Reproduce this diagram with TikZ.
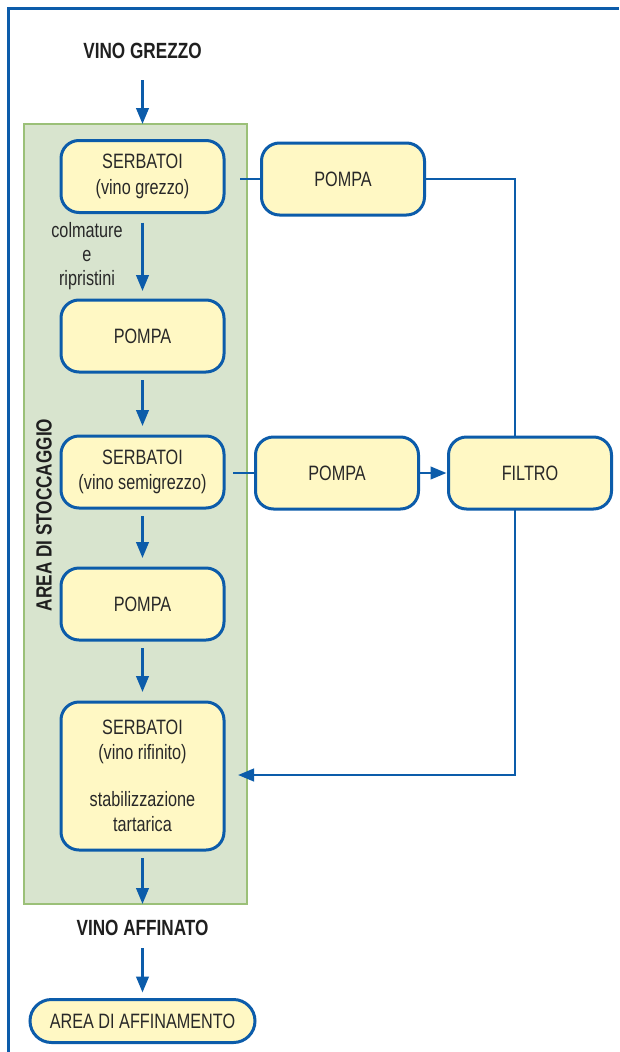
\documentclass[tikz,border=0pt]{standalone}
\usepackage{fontspec}
\setmainfont{Liberation Sans}[FakeStretch=0.78]
\usetikzlibrary{arrows.meta,calc}

\definecolor{flowblue}{RGB}{12,92,170}
\definecolor{tankfill}{RGB}{255,248,196}
\definecolor{areafill}{RGB}{216,228,206}
\definecolor{areaedge}{RGB}{155,192,120}
\definecolor{txt}{RGB}{40,40,40}

\begin{document}
\begin{tikzpicture}[x=1pt,y=-1pt,
  every node/.style={outer sep=0pt, text=txt},
  unit/.style={draw=flowblue, line width=3pt, fill=tankfill, rounded corners=18pt,
    minimum width=163pt, minimum height=72pt, align=center, inner sep=0pt,
    font=\fontsize{20.8pt}{25.5pt}\selectfont},
  pill/.style={draw=flowblue, line width=3pt, fill=tankfill, rounded corners=21.5pt,
    minimum width=225pt, minimum height=43pt, inner sep=0pt,
    font=\fontsize{20.8pt}{25pt}\selectfont},
  zone/.style={draw=areaedge, line width=2.5pt, fill=areafill,
    minimum width=223pt, minimum height=780pt, inner sep=0pt},
  heading/.style={font=\fontsize{22pt}{26pt}\selectfont\bfseries, text=black!88},
  note/.style={align=center, inner sep=0pt, font=\fontsize{20.8pt}{24pt}\selectfont},
  link/.style={draw=flowblue, line width=2.6pt},
  arr/.style={link, -{Triangle[length=16pt,width=12.5pt]}}
]
\useasboundingbox (0,0) rectangle (619,1052);
\fill[white] (0,0) rectangle (619,1052);

% outer frame (top and left edges only)
\draw[flowblue, line width=3pt] (8.5,1052) -- (8.5,8.5) -- (619,8.5);

% storage area
\node[zone] (store) at (135.5,514) {};
\node[heading, rotate=90] (storelbl) at (44,515) {AREA DI STOCCAGGIO};

% labels
\node[heading, anchor=base] (vg) at (142.5,58) {VINO GREZZO};
\node[heading, anchor=base] (va) at (142.5,935) {VINO AFFINATO};

% main column
\node[unit] (s1) at (142.5,176.5) {SERBATOI\\(vino grezzo)};
\node[unit] (p2) at (142.5,336) {POMPA};
\node[unit] (s2) at (142.5,472) {SERBATOI\\(vino semigrezzo)};
\node[unit] (p3) at (142.5,604) {POMPA};
\node[unit, minimum height=148pt] (s3) at (142.5,776)
  {SERBATOI\\(vino rifinito)\\[21pt]stabilizzazione\\tartarica};
\node[pill] (aff) at (142.5,1021) {AREA DI AFFINAMENTO};

\node[note] (cr) at (87,256) {colmature\\e\\ripristini};

% side branch
\node[unit] (pA) at (343,179) {POMPA};
\node[unit] (pB) at (337,473) {POMPA};
\node[unit] (filt) at (530,473) {FILTRO};

\coordinate (c1) at (515,180);
\coordinate (c2) at (515,775);

% main flow
\draw[arr] ([yshift=-22pt]vg.base) -- (vg.base |- store.north);
\draw[arr] ([yshift=-10pt]s1.south) -- ([yshift=9pt]p2.north);
\draw[arr] ([yshift=-8pt]p2.south) -- ([yshift=10pt]s2.north);
\draw[arr] ([yshift=-8pt]s2.south) -- ([yshift=10pt]p3.north);
\draw[arr] ([yshift=-8pt]p3.south) -- ([yshift=10pt]s3.north);
\draw[arr] ([yshift=-8pt]s3.south) -- (s3.south |- store.south);
\draw[arr] ([yshift=-13pt]va.base) -- ([yshift=7pt]aff.north);

% filtration loop
\draw[link] (pA.west) -- ++(-21.5,0);
\draw[link] (pA.east) -- (pA.east -| c1) -- (c1 |- filt.north);
\draw[link] (pB.west) -- ++(-23,0);
\draw[arr] (pB.east) -- ([xshift=-2pt]filt.west);
\draw[arr] (c2 |- filt.south) -- (c2) -- ([xshift=14pt]c2 -| s3.east);
\end{tikzpicture}
\end{document}
